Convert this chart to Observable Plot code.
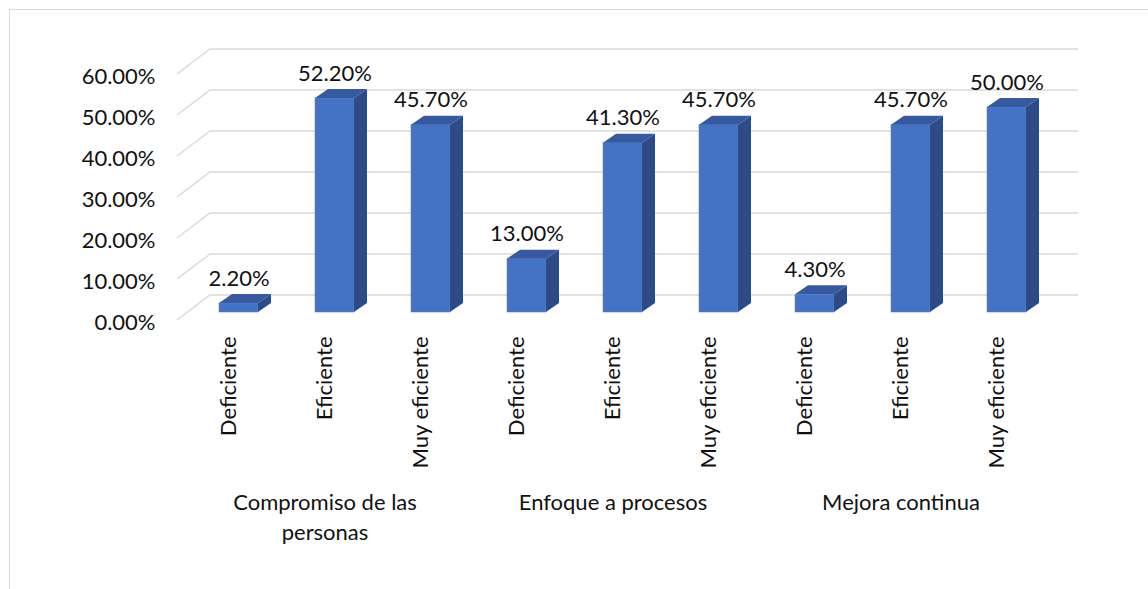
<!DOCTYPE html>
<html><head><meta charset="utf-8">
<script src="https://cdn.jsdelivr.net/npm/d3@7"></script>
<script src="https://cdn.jsdelivr.net/npm/@observablehq/plot@0.6"></script>
<style>
html,body{margin:0;padding:0;background:#fff;overflow:hidden;}
#wrap{position:relative;width:1148px;height:589px;overflow:hidden;}
#chart{position:absolute;left:0;top:0;}
#frame{position:absolute;left:9px;top:9px;width:1300px;height:800px;border-left:1px solid #d9d9d9;border-top:1px solid #d9d9d9;pointer-events:none;}
</style></head><body>
<div id="wrap"><div id="chart"></div><div id="frame"></div></div>
<script>
// ---- data ----
const groups = ["Compromiso de las personas", "Enfoque a procesos", "Mejora continua"];
const levels = ["Deficiente", "Eficiente", "Muy eficiente"];
const compromiso = [0.022, 0.522, 0.457];
const enfoque = [0.130, 0.413, 0.457];
const mejora = [0.043, 0.457, 0.500];
const yTicks = [0, 0.1, 0.2, 0.3, 0.4, 0.5, 0.6];

const seriesValues = [compromiso, enfoque, mejora];
const data = groups.flatMap((g, i) => levels.map((l, j) => ({group: g, level: l, key: g + "|" + l, value: seriesValues[i][j]})));
const midLevel = levels[Math.floor(levels.length / 2)];
const groupLabels = groups.map(g => ({group: g, key: g + "|" + midLevel}));

// ---- 3D styling offsets (pixels) ----
const BAR_DX = 13, BAR_DY = -9;         // bar depth
const WALL_DX = 22, WALL_DY = -17;      // back wall offset
const FLOOR_DX = -11, FLOOR_DY = 8;     // front floor edge offset
const FRONT = "#4472C4", SIDE = "#2D4C85", TOP = "#3659A0", GRID = "#d9d9d9";

function walls(index, scales) {
  const {x, y} = scales;
  const [r0, r1] = x.range();
  const g = d3.create("svg:g").attr("fill", "none").attr("stroke", GRID).attr("stroke-width", 1.4);
  for (const t of yTicks) {
    const yy = y(t);
    g.append("path").attr("d", `M${r0 + FLOOR_DX},${yy + FLOOR_DY}L${r0 + WALL_DX},${yy + WALL_DY}H${r1 + WALL_DX}`);
  }
  return g.node();
}

function bars3d(index, scales) {
  const {x, y} = scales;
  const bw = x.bandwidth();
  const y0 = y(0);
  const g = d3.create("svg:g");
  for (const d of data) {
    const xl = x(d.key), xr = xl + bw, yv = y(d.value);
    g.append("path").attr("fill", SIDE)
      .attr("d", `M${xr},${yv}L${xr + BAR_DX},${yv + BAR_DY}L${xr + BAR_DX},${y0 + BAR_DY}L${xr},${y0}Z`);
    g.append("path").attr("fill", TOP)
      .attr("d", `M${xl},${yv}L${xl + BAR_DX},${yv + BAR_DY}L${xr + BAR_DX},${yv + BAR_DY}L${xr},${yv}Z`);
  }
  return g.node();
}

const chart = Plot.plot({
  width: 1148,
  height: 589,
  marginTop: 66,
  marginBottom: 277,
  marginLeft: 188,
  marginRight: 92,
  style: {background: "transparent", fontFamily: "Lato, 'Open Sans', sans-serif", fontSize: "22px", color: "#111"},
  x: {type: "band", domain: data.map(d => d.key), paddingInner: 0.595, paddingOuter: 0.3},
  y: {domain: [0, 0.6]},
  marks: [
    walls,
    Plot.barY(data, {x: "key", y: "value", fill: FRONT, stroke: "#5a84cf", strokeWidth: 0.6}),
    bars3d,
    Plot.text(data, {x: "key", y: "value", text: d => d3.format(".2%")(d.value), dy: -25, fill: "#111", fontSize: 22}),
    Plot.axisY(yTicks, {tickFormat: d3.format(".2%"), tickSize: 0, tickPadding: 33, dy: 10, fontSize: 22, fill: "#111", label: null}),
    Plot.axisX({tickRotate: -90, tickSize: 0, tickPadding: 24, tickFormat: k => k.split("|")[1], dx: -10, fontSize: 22, fill: "#111", label: null}),
    Plot.text(groupLabels, {x: "key", text: "group", frameAnchor: "bottom", lineAnchor: "top", lineWidth: 11, lineHeight: 1.36, dy: 176, dx: -10, fontSize: 22, fill: "#111"})
  ]
});
document.getElementById("chart").appendChild(chart);
</script>
</body></html>
